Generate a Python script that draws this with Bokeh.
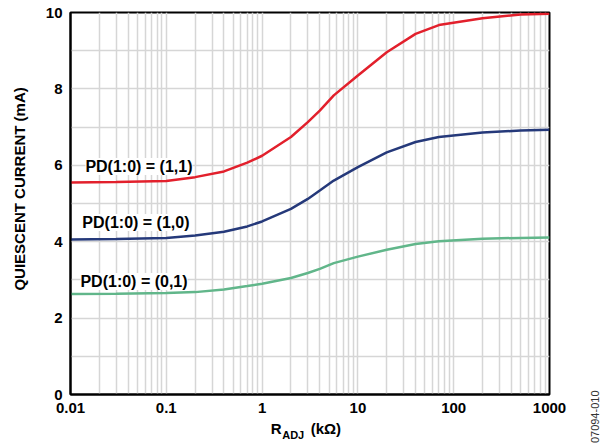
import math
from bokeh.plotting import figure
from bokeh.models import Range1d, FixedTicker, Label, LogAxis
from bokeh.embed import file_html
from bokeh.resources import INLINE

# ---- data ----
r_adj = [0.01, 0.03, 0.1, 0.2, 0.4, 0.7, 1, 2, 3, 4, 5.6, 10, 20, 40, 70, 200, 500, 1000]
i_11 = [5.55, 5.56, 5.59, 5.69, 5.84, 6.07, 6.25, 6.74, 7.13, 7.43, 7.83, 8.35, 8.96, 9.44, 9.67, 9.85, 9.95, 9.97]
i_10 = [4.06, 4.07, 4.10, 4.16, 4.26, 4.40, 4.53, 4.86, 5.12, 5.34, 5.60, 5.95, 6.34, 6.61, 6.74, 6.86, 6.91, 6.93]
i_01 = [2.63, 2.64, 2.66, 2.68, 2.75, 2.84, 2.90, 3.05, 3.18, 3.29, 3.44, 3.61, 3.79, 3.94, 4.01, 4.08, 4.10, 4.11]

x_ticks = [0.01, 0.1, 1, 10, 100, 1000]
x_tick_labels = ["0.01", "0.1", "1", "10", "100", "1000"]
y_ticks = [0, 2, 4, 6, 8, 10]
y_minor = [1, 3, 5, 7, 9]
series_labels = ["PD(1:0) = (1,1)", "PD(1:0) = (1,0)", "PD(1:0) = (0,1)"]

FONT = "Liberation Sans"
RED = "#E2202C"
BLUE = "#25397A"
GREEN = "#61B68A"
GRID = "#D6D6D6"
NB = "\u00a0"

p = figure(width=603, height=446, x_axis_type="log",
           x_range=Range1d(0.01, 1000), y_range=Range1d(0, 10),
           output_backend="svg", toolbar_location=None,
           min_border_left=70, min_border_right=54, min_border_top=12,
           min_border_bottom=52)
p.background_fill_color = "white"
p.border_fill_color = "white"
p.outline_line_color = "black"
p.outline_line_width = 2

minor_x = [d * m for d in [0.01, 0.1, 1, 10, 100] for m in range(2, 10)]
p.xaxis.ticker = FixedTicker(ticks=x_ticks, minor_ticks=minor_x)
p.xaxis.major_label_overrides = {t: l for t, l in zip(x_ticks, x_tick_labels)}
p.yaxis.ticker = FixedTicker(ticks=y_ticks, minor_ticks=y_minor)

for ax in (p.xaxis, p.yaxis):
    ax.axis_line_color = "black"
    ax.axis_line_width = 2
    ax.major_tick_line_color = None
    ax.minor_tick_line_color = None
    ax.major_tick_out = 0
    ax.major_tick_in = 0
    ax.minor_tick_out = 0
    ax.minor_tick_in = 0
    ax.major_label_text_font = FONT
    ax.major_label_text_font_style = "bold"
    ax.major_label_text_font_size = "15px"
    ax.major_label_text_color = "black"
    ax.major_label_standoff = 8
    ax.axis_label_text_font = FONT
    ax.axis_label_text_font_style = "bold"
    ax.axis_label_text_font_size = "15px"
    ax.axis_label_text_color = "black"

# y title, shifted up a little with leading no-break spaces
p.yaxis.axis_label = NB * 7 + "QUIESCENT CURRENT (mA)"
p.yaxis.axis_label_standoff = 15

# x title: "R" ... "(kΩ)" on the main axis, subscript "ADJ" on a second, empty axis
p.xaxis.axis_label = "R" + NB * 7 + "(kΩ)" + NB * 2
p.xaxis.axis_label_standoff = 4


def empty_axis(label, **kw):
    args = dict(ticker=FixedTicker(ticks=[]), axis_label=label, axis_line_color=None,
                major_tick_out=0, major_tick_in=0, minor_tick_out=0, minor_tick_in=0,
                major_label_standoff=0, major_label_text_font_size="0px",
                axis_label_text_font=FONT, axis_label_text_color="black")
    args.update(kw)
    return LogAxis(**args)


p.add_layout(empty_axis("ADJ" + NB * 11, axis_label_standoff=-11,
                        axis_label_text_font_style="bold",
                        axis_label_text_font_size="11px"), "below")

# figure code, vertical, right of the frame just below its bottom
p.add_layout(empty_axis("\n\n\n\n\n07094-010", axis_label_standoff=-53,
                        axis_label_text_font_style="normal",
                        axis_label_text_font_size="11px",
                        axis_label_text_color="#333333",
                        axis_label_text_line_height=1.5,
                        axis_label_orientation=math.pi / 2,
                        axis_label_align="end"), "below")

for g in (p.xgrid, p.ygrid):
    g.grid_line_color = GRID
    g.grid_line_width = 1.5
    g.minor_grid_line_color = GRID
    g.minor_grid_line_width = 1.5

p.line(r_adj, i_01, line_color=GREEN, line_width=2.5)
p.line(r_adj, i_10, line_color=BLUE, line_width=2.5)
p.line(r_adj, i_11, line_color=RED, line_width=2.5)

# series labels (data units)
for txt, xv, yv in zip(series_labels, [0.0143, 0.0133, 0.0127], [5.97, 4.50, 2.96]):
    p.add_layout(Label(text=txt, x=xv, y=yv, text_font=FONT, text_font_style="bold",
                       text_color="black", text_font_size="16px", text_baseline="middle",
                       text_align="left", background_fill_color="white", padding=0))

open("out.html", "w").write(file_html(p, INLINE))
